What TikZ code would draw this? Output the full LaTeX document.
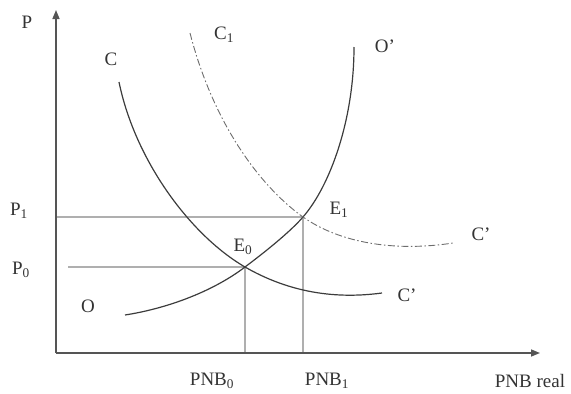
\documentclass[tikz,border=0pt]{standalone}
\usepackage{fontspec}
\setmainfont{Liberation Serif}
\usetikzlibrary{arrows.meta}
\definecolor{axisgray}{RGB}{85,85,85}
\definecolor{curvegray}{RGB}{60,60,60}
\definecolor{guidegray}{RGB}{175,175,175}
\tikzset{
  axisline/.style={draw=axisgray, line width=1.5pt, -{Triangle[length=9pt,width=7pt]}},
  curveline/.style={draw=curvegray, line width=1.2pt},
  shiftline/.style={draw=curvegray!75, line width=0.9pt, dash pattern=on 7pt off 2.5pt on 1.5pt off 2.5pt},
  guideline/.style={draw=guidegray, line width=1.1pt},
  lbl/.style={font=\fontsize{19}{21}\selectfont, text=black!80, inner sep=1pt}
}
\begin{document}
\begin{tikzpicture}[x=1pt,y=-1pt]
\useasboundingbox (0,0) rectangle (571,394);
% key points
\coordinate (orig) at (56,353);
\coordinate (ytop) at (56,10);
\coordinate (xend) at (540,353);
\coordinate (E0) at (245,267);
\coordinate (E1) at (303,217);
\coordinate (p0start) at (68,267);
\coordinate (p1start) at (56,217);
\coordinate (x0foot) at (245,353);
\coordinate (x1foot) at (303,353);
\coordinate (Os) at (125,315);
\coordinate (Oe) at (354,47);
\coordinate (Cs) at (119,82);
\coordinate (Ce) at (382,293);
\coordinate (C1s) at (190,33);
\coordinate (C1e) at (453,243);
% guide lines
\draw[guideline] (p1start) -- (E1);
\draw[guideline] (p0start) -- (E0);
\draw[guideline] (E0) -- (x0foot);
\draw[guideline] (E1) -- (x1foot);
% axes
\draw[axisline] (orig) -- (ytop);
\draw[axisline] (orig) -- (xend);
% curve O-O'
\draw[curveline] (Os) .. controls (170,308) and (215,290) .. (E0)
  .. controls (265,252) and (290,232) .. (E1)
  .. controls (330,186) and (354,120) .. (Oe);
% curve C-C'
\draw[curveline] (Cs) .. controls (135,160) and (190,235) .. (E0)
  .. controls (285,290) and (330,300) .. (Ce);
% curve C1-C'
\draw[shiftline] (C1s) .. controls (215,130) and (265,190) .. (E1)
  .. controls (340,243) and (395,252) .. (C1e);
% labels
\node[lbl] (lP) at (27,22) {P};
\node[lbl] (lP1) at (19,211) {P\textsubscript{1}};
\node[lbl] (lP0) at (21,270) {P\textsubscript{0}};
\node[lbl] (lC) at (111,59) {C};
\node[lbl] (lC1) at (224,35) {C\textsubscript{1}};
\node[lbl] (lO2) at (385,46) {O'};
\node[lbl] (lO) at (88,306) {O};
\node[lbl] (lE0) at (243,247) {E\textsubscript{0}};
\node[lbl] (lE1) at (339,210) {E\textsubscript{1}};
\node[lbl] (lCa) at (481,234) {C'};
\node[lbl] (lCb) at (407,295) {C'};
\node[lbl] (lX0) at (212,381) {PNB\textsubscript{0}};
\node[lbl] (lX1) at (327,381) {PNB\textsubscript{1}};
\node[lbl] (lX) at (530,381) {PNB real};
\end{tikzpicture}
\end{document}
